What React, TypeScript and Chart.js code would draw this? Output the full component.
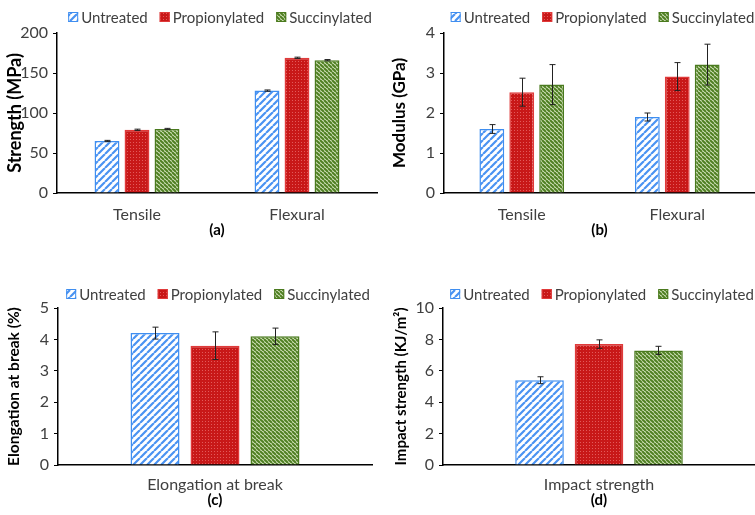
import React, { useEffect, useRef } from 'react';
import { Chart, registerables } from 'chart.js';

Chart.register(...registerables);

// ---------- data ----------
const seriesNames = ['Untreated', 'Propionylated', 'Succinylated'];

const strengthCategories = ['Tensile', 'Flexural'];
const strengthUntreated = [65, 128];
const strengthPropionylated = [79, 169];
const strengthSuccinylated = [80, 166];
const strengthUntreatedErr = [0.8, 0.8];
const strengthPropionylatedErr = [0.8, 0.8];
const strengthSuccinylatedErr = [0.8, 0.8];
const strengthTicks = { max: 200, step: 50 };

const modulusCategories = ['Tensile', 'Flexural'];
const modulusUntreated = [1.6, 1.9];
const modulusPropionylated = [2.52, 2.91];
const modulusSuccinylated = [2.71, 3.21];
const modulusUntreatedErr = [0.11, 0.1];
const modulusPropionylatedErr = [0.35, 0.35];
const modulusSuccinylatedErr = [0.5, 0.51];
const modulusTicks = { max: 4, step: 1 };

const elongationCategories = ['Elongation at break'];
const elongationUntreated = [4.2];
const elongationPropionylated = [3.8];
const elongationSuccinylated = [4.1];
const elongationUntreatedErr = [0.19];
const elongationPropionylatedErr = [0.44];
const elongationSuccinylatedErr = [0.26];
const elongationTicks = { max: 5, step: 1 };

const impactCategories = ['Impact strength'];
const impactUntreated = [5.4];
const impactPropionylated = [7.7];
const impactSuccinylated = [7.3];
const impactUntreatedErr = [0.22];
const impactPropionylatedErr = [0.27];
const impactSuccinylatedErr = [0.26];
const impactTicks = { max: 10, step: 2 };

// ---------- patterns ----------
function stripePattern(ctx: CanvasRenderingContext2D, bg: string, fg: string, size: number, lw: number, dir: string) {
  const c = document.createElement('canvas');
  c.width = size;
  c.height = size;
  const g = c.getContext('2d')!;
  g.fillStyle = bg;
  g.fillRect(0, 0, size, size);
  g.strokeStyle = fg;
  g.lineWidth = lw;
  g.beginPath();
  for (let k = -1; k <= 1; k++) {
    if (dir === '/') {
      g.moveTo(k * size, size);
      g.lineTo(k * size + size, 0);
    } else {
      g.moveTo(k * size, 0);
      g.lineTo(k * size + size, size);
    }
  }
  g.stroke();
  return ctx.createPattern(c, 'repeat')!;
}

function dotPattern(ctx: CanvasRenderingContext2D, bg: string, fg: string) {
  const c = document.createElement('canvas');
  c.width = 3;
  c.height = 3;
  const g = c.getContext('2d')!;
  g.fillStyle = bg;
  g.fillRect(0, 0, 3, 3);
  g.fillStyle = fg;
  g.fillRect(1, 1, 1, 1);
  return ctx.createPattern(c, 'repeat')!;
}

const BORDERS = ['#3f8ef0', '#e03a3a', '#4a7a1e'];

// ---------- plugins ----------
const errorBarsPlugin = {
  id: 'errorBars',
  afterDatasetsDraw(chart: any) {
    const { ctx } = chart;
    const y = chart.scales.y;
    chart.data.datasets.forEach((ds: any, i: number) => {
      const meta = chart.getDatasetMeta(i);
      meta.data.forEach((bar: any, j: number) => {
        const v = ds.data[j];
        const e = ds.errors[j];
        const x = Math.round(bar.x) + 0.5;
        const yt = y.getPixelForValue(v + e);
        const yb = y.getPixelForValue(v - e);
        ctx.save();
        ctx.strokeStyle = '#222';
        ctx.lineWidth = 1;
        ctx.beginPath();
        ctx.moveTo(x, yt);
        ctx.lineTo(x, yb);
        ctx.moveTo(x - 3, yt);
        ctx.lineTo(x + 3, yt);
        ctx.moveTo(x - 3, yb);
        ctx.lineTo(x + 3, yb);
        ctx.stroke();
        ctx.restore();
      });
    });
  },
};

const patternLegendPlugin = {
  id: 'patternLegend',
  afterDraw(chart: any, _args: any, opts: any) {
    const ctx = chart.ctx;
    ctx.save();
    ctx.font = '15px Lato';
    const box = 10;
    const gapText = 3;
    const gapItem = 12;
    const items = chart.data.datasets.map((ds: any) => ({
      label: ds.label,
      w: ctx.measureText(ds.label).width,
      bg: ds.backgroundColor,
      bc: ds.borderColor,
    }));
    const total = items.reduce((s: number, it: any) => s + box + gapText + it.w, 0) + gapItem * (items.length - 1);
    let x = (chart.chartArea.left + chart.chartArea.right) / 2 - total / 2 + opts.dx;
    const y = opts.y;
    items.forEach((it: any) => {
      ctx.fillStyle = it.bg;
      ctx.fillRect(x, y - box / 2, box, box);
      ctx.strokeStyle = it.bc;
      ctx.lineWidth = 1;
      ctx.strokeRect(x + 0.5, y - box / 2 + 0.5, box - 1, box - 1);
      ctx.fillStyle = '#404040';
      ctx.textBaseline = 'middle';
      ctx.textAlign = 'left';
      ctx.fillText(it.label, x + box + gapText, y + 1);
      x += box + gapText + it.w + gapItem;
    });
    ctx.restore();
  },
};

// ---------- panel ----------
type PanelProps = {
  left: number;
  top: number;
  width: number;
  height: number;
  categories: string[];
  values: number[][];
  errors: number[][];
  ticks: { max: number; step: number };
  yTitle: string;
  xTitle: string;
  axisW: number;
  areaTop: number;
  xAxisH: number;
  padRight: number;
  legendY: number;
  yTitlePad: number;
  yTitleSize: number;
  xTitlePad: number;
  xTickPad: number;
  catPct: number;
  barPct: number;
};

function Panel(p: PanelProps) {
  const ref = useRef<HTMLCanvasElement | null>(null);
  useEffect(() => {
    const canvas = ref.current!;
    const ctx = canvas.getContext('2d')!;
    const fills = [
      stripePattern(ctx, '#ffffff', '#4a93f2', 7, 2.2, '/'),
      dotPattern(ctx, '#c81818', '#e25a5a'),
      stripePattern(ctx, '#d3e3bd', '#4f7f22', 4, 2, '\\'),
    ];
    const chart = new Chart(canvas, {
      type: 'bar',
      data: {
        labels: p.categories,
        datasets: seriesNames.map((name, i) => ({
          label: name,
          data: p.values[i],
          errors: p.errors[i],
          backgroundColor: fills[i],
          borderColor: BORDERS[i],
          borderWidth: 1.5,
          categoryPercentage: p.catPct,
          barPercentage: p.barPct,
        })) as any,
      },
      options: {
        responsive: false,
        animation: false,
        devicePixelRatio: 1,
        layout: { padding: { top: p.areaTop, right: p.padRight, left: 0, bottom: 0 } },
        plugins: {
          legend: { display: false },
          tooltip: { enabled: false },
          patternLegend: { y: p.legendY, dx: 3 },
        } as any,
        scales: {
          x: {
            grid: { display: false, drawTicks: false },
            border: { display: true, color: '#000', width: 1.5 },
            ticks: { color: '#404040', font: { family: 'Lato', size: 16 }, padding: p.xTickPad },
            title: {
              display: true,
              text: p.xTitle,
              color: '#000',
              font: { family: 'Lato', size: 15, weight: 'bold' },
              padding: { top: 0, bottom: p.xTitlePad },
            },
            afterFit: (s: any) => {
              s.height = p.xAxisH;
            },
          },
          y: {
            min: 0,
            max: p.ticks.max,
            ticks: { stepSize: p.ticks.step, color: '#404040', font: { family: 'Lato', size: 16 }, padding: 5 },
            grid: { display: true, drawOnChartArea: false, drawTicks: true, tickLength: 4, color: '#000', lineWidth: 1 },
            border: { display: true, color: '#000', width: 1.5 },
            title: {
              display: true,
              text: p.yTitle,
              color: '#000',
              font: { family: 'Lato', size: p.yTitleSize, weight: 'bold' },
              padding: { top: p.yTitlePad, bottom: 0 },
            },
            afterFit: (s: any) => {
              s.width = p.axisW;
            },
          },
        } as any,
      },
      plugins: [errorBarsPlugin, patternLegendPlugin],
    });
    return () => chart.destroy();
  }, []);
  return (
    <canvas
      ref={ref}
      width={p.width}
      height={p.height}
      style={{ position: 'absolute', left: p.left, top: p.top, width: p.width, height: p.height }}
    />
  );
}

export default function App() {
  return (
    <div style={{ position: 'absolute', left: 0, top: 0, width: 755, height: 515, background: '#fff' }}>
      <Panel
        left={0} top={0} width={378} height={250}
        categories={strengthCategories}
        values={[strengthUntreated, strengthPropionylated, strengthSuccinylated]}
        errors={[strengthUntreatedErr, strengthPropionylatedErr, strengthSuccinylatedErr]}
        ticks={strengthTicks}
        yTitle="Strength (MPa)" xTitle="(a)"
        axisW={57} areaTop={33} xAxisH={57} padRight={1} legendY={17}
        yTitlePad={4} yTitleSize={18} xTitlePad={11} xTickPad={12}
        catPct={0.5625} barPct={0.83}
      />
      <Panel
        left={378} top={0} width={377} height={250}
        categories={modulusCategories}
        values={[modulusUntreated, modulusPropionylated, modulusSuccinylated]}
        errors={[modulusUntreatedErr, modulusPropionylatedErr, modulusSuccinylatedErr]}
        ticks={modulusTicks}
        yTitle="Modulus (GPa)" xTitle="(b)"
        axisW={66} areaTop={33} xAxisH={57} padRight={0} legendY={17}
        yTitlePad={11} yTitleSize={17} xTitlePad={11} xTickPad={12}
        catPct={0.577} barPct={0.83}
      />
      <Panel
        left={0} top={255} width={378} height={260}
        categories={elongationCategories}
        values={[elongationUntreated, elongationPropionylated, elongationSuccinylated]}
        errors={[elongationUntreatedErr, elongationPropionylatedErr, elongationSuccinylatedErr]}
        ticks={elongationTicks}
        yTitle="Elongation at break (%)" xTitle="(c)"
        axisW={58} areaTop={53} xAxisH={50} padRight={6} legendY={39}
        yTitlePad={5} yTitleSize={15.5} xTitlePad={6} xTickPad={10}
        catPct={0.573} barPct={0.817}
      />
      <Panel
        left={378} top={255} width={377} height={260}
        categories={impactCategories}
        values={[impactUntreated, impactPropionylated, impactSuccinylated]}
        errors={[impactUntreatedErr, impactPropionylatedErr, impactSuccinylatedErr]}
        ticks={impactTicks}
        yTitle="Impact strength (KJ/m²)" xTitle="(d)"
        axisW={65} areaTop={53} xAxisH={50} padRight={0} legendY={39}
        yTitlePad={14} yTitleSize={15} xTitlePad={6} xTickPad={10}
        catPct={0.572} barPct={0.817}
      />
    </div>
  );
}
